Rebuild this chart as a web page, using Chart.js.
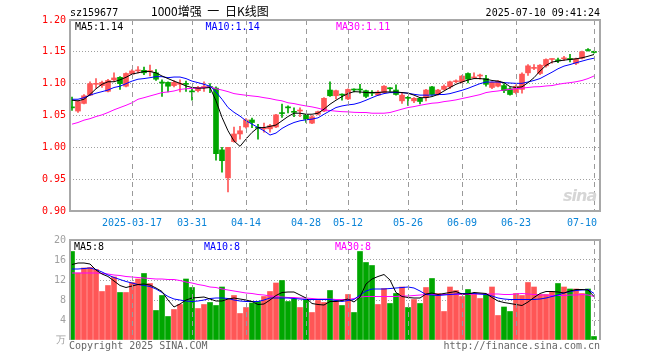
<!DOCTYPE html>
<html><head><meta charset="utf-8">
<script src="https://cdn.jsdelivr.net/npm/chart.js@4.4.1/dist/chart.umd.min.js"></script>
<style>
html,body{margin:0;padding:0;background:#fff;width:660px;height:360px;overflow:hidden;}
#wrap{position:relative;width:660px;height:360px;}
canvas{position:absolute;left:0;}
.t{position:absolute;font-family:"DejaVu Sans Mono",monospace;font-size:10px;line-height:12px;white-space:pre;}
</style></head><body>
<div id="wrap">
<canvas id="k" width="660" height="230" style="top:0"></canvas>
<canvas id="v" width="660" height="130" style="top:230px"></canvas>
<div class="t" style="left:70px;top:7px;color:#000">sz159677</div>
<div class="t" style="left:151px;top:4px;font-family:'Noto Sans CJK SC',sans-serif;font-size:12px;line-height:14px;word-spacing:3px;color:#000">1000增强 一 日K线图</div>
<div class="t" style="right:60px;top:7px;color:#000">2025-07-10 09:41:24</div>
<div class="t" style="left:75px;top:20.5px;color:#000">MA5:1.14</div>
<div class="t" style="left:205.5px;top:20.5px;color:#0000ff">MA10:1.14</div>
<div class="t" style="left:336px;top:20.5px;color:#ff00ff">MA30:1.11</div>
<div class="t" style="left:74px;top:240.5px;color:#000">MA5:8</div>
<div class="t" style="left:204px;top:240.5px;color:#0000ff">MA10:8</div>
<div class="t" style="left:335px;top:240.5px;color:#ff00ff">MA30:8</div>
<div class="t" style="left:69px;top:340px;color:#666">Copyright 2025 SINA.COM</div>
<div class="t" style="right:60px;top:340px;color:#666">http://finance.sina.com.cn</div>
<div class="t" style="left:563px;top:186px;font-family:'DejaVu Sans',sans-serif;font-size:16px;line-height:20px;letter-spacing:-1px;font-style:italic;font-weight:bold;color:#d6d6d6">sina</div>
</div>
<script>
const openP=[1.063,1.057,1.069,1.082,1.099,1.097,1.088,1.106,1.110,1.096,
1.115,1.120,1.121,1.119,1.117,1.102,1.102,1.097,1.099,1.100,
1.088,1.089,1.094,1.095,1.093,0.996,0.952,1.009,1.021,1.032,
1.043,1.031,1.029,1.029,1.032,1.054,1.063,1.056,1.057,1.051,
1.038,1.052,1.057,1.090,1.081,1.083,1.076,1.091,1.091,1.089,
1.086,1.082,1.086,1.093,1.090,1.073,1.078,1.073,1.077,1.078,
1.095,1.083,1.091,1.095,1.103,1.103,1.116,1.109,1.112,1.108,
1.094,1.096,1.097,1.092,1.086,1.091,1.117,1.124,1.116,1.128,
1.138,1.137,1.139,1.139,1.132,1.140,1.153,1.150];
const highP=[1.079,1.073,1.083,1.103,1.108,1.104,1.107,1.117,1.111,1.117,
1.122,1.127,1.126,1.129,1.122,1.106,1.103,1.105,1.106,1.104,
1.092,1.096,1.103,1.100,1.095,1.000,1.000,1.032,1.033,1.045,
1.046,1.036,1.038,1.036,1.052,1.068,1.065,1.062,1.062,1.052,
1.050,1.057,1.078,1.103,1.090,1.084,1.092,1.092,1.099,1.090,
1.089,1.089,1.097,1.094,1.098,1.086,1.080,1.078,1.078,1.091,
1.096,1.091,1.098,1.104,1.106,1.113,1.117,1.117,1.115,1.113,
1.103,1.105,1.100,1.094,1.098,1.117,1.130,1.130,1.130,1.139,
1.139,1.140,1.143,1.146,1.140,1.151,1.155,1.151];
const lowP=[1.058,1.055,1.068,1.081,1.093,1.094,1.087,1.104,1.091,1.095,
1.114,1.117,1.114,1.112,1.105,1.080,1.087,1.095,1.087,1.088,
1.074,1.087,1.088,1.086,0.980,0.961,0.930,1.008,1.013,1.030,
1.031,1.013,1.024,1.024,1.031,1.047,1.054,1.048,1.048,1.039,
1.037,1.051,1.056,1.080,1.076,1.074,1.075,1.087,1.085,1.078,
1.081,1.081,1.085,1.088,1.082,1.069,1.066,1.070,1.068,1.073,
1.082,1.082,1.090,1.092,1.101,1.101,1.101,1.109,1.107,1.096,
1.092,1.095,1.086,1.082,1.084,1.085,1.113,1.122,1.114,1.126,
1.132,1.133,1.136,1.134,1.130,1.139,1.151,1.148];
const closeP=[1.062,1.072,1.081,1.100,1.100,1.102,1.105,1.109,1.100,1.116,
1.120,1.121,1.117,1.120,1.107,1.101,1.096,1.102,1.100,1.099,
1.087,1.094,1.095,1.094,0.990,0.979,1.000,1.021,1.026,1.043,
1.039,1.030,1.030,1.034,1.051,1.053,1.062,1.055,1.058,1.044,
1.048,1.056,1.077,1.081,1.089,1.082,1.091,1.090,1.090,1.080,
1.085,1.087,1.096,1.092,1.083,1.082,1.077,1.077,1.072,1.090,
1.083,1.090,1.096,1.103,1.104,1.112,1.107,1.110,1.113,1.099,
1.102,1.104,1.089,1.083,1.096,1.115,1.128,1.125,1.129,1.138,
1.1385,1.136,1.140,1.138,1.139,1.150,1.152,1.149];
const ma5=[1.074,1.073,1.0755,1.083,1.092,1.099,1.103,1.103,1.106,1.110,
1.115,1.117,1.119,1.119,1.117,1.112,1.108,1.104,1.1005,1.0964,
1.094,1.093,1.093,1.094,1.073,1.047,1.026,1.010,1.0015,1.013,
1.0234,1.031,1.031,1.033,1.035,1.0417,1.0484,1.0536,1.0536,1.052,
1.052,1.0536,1.060,1.0677,1.074,1.0797,1.0844,1.0875,1.087,1.086,
1.086,1.086,1.087,1.087,1.087,1.086,1.085,1.082,1.078,1.078,
1.0797,1.083,1.0885,1.094,1.099,1.1026,1.1057,1.108,1.108,1.107,
1.105,1.104,1.1016,1.0953,1.094,1.095,1.1016,1.1094,1.1198,1.1287,
1.134,1.1354,1.137,1.138,1.139,1.1406,1.143,1.1458];
const ma10=[1.0755,1.0755,1.078,1.082,1.085,1.0875,1.090,1.094,1.096,1.100,
1.104,1.107,1.108,1.1094,1.111,1.111,1.1094,1.1104,1.1104,1.108,
1.104,1.1016,1.099,1.096,1.087,1.0755,1.0625,1.055,1.049,1.0417,
1.0365,1.0312,1.026,1.0193,1.0224,1.0297,1.0349,1.039,1.0417,1.0432,
1.0443,1.0463,1.052,1.0573,1.0625,1.065,1.0667,1.0677,1.0703,1.074,
1.078,1.0818,1.0844,1.086,1.086,1.086,1.085,1.0833,1.082,1.082,
1.082,1.083,1.083,1.0844,1.087,1.0896,1.0927,1.0964,1.100,1.1026,
1.1026,1.1026,1.1016,1.101,1.1005,1.1005,1.1026,1.105,1.108,1.113,
1.118,1.1234,1.1276,1.130,1.1328,1.1354,1.138,1.140];
const ma30=[1.0364,1.039,1.0427,1.045,1.0484,1.051,1.0547,1.0589,1.0625,1.066,
1.070,1.0755,1.078,1.0807,1.0833,1.086,1.087,1.0885,1.091,1.092,
1.0927,1.093,1.094,1.095,1.092,1.090,1.0875,1.0844,1.083,1.0818,
1.0807,1.0797,1.078,1.0766,1.0745,1.073,1.070,1.0687,1.0667,1.065,
1.0635,1.0615,1.0589,1.0578,1.0568,1.056,1.0557,1.055,1.0547,1.0547,
1.0536,1.0536,1.0536,1.0547,1.0573,1.060,1.0625,1.064,1.066,1.0677,
1.0693,1.070,1.0718,1.073,1.0745,1.0766,1.0786,1.0807,1.0828,1.086,
1.0875,1.0885,1.090,1.091,1.092,1.093,1.094,1.095,1.0953,1.0964,
1.097,1.099,1.1005,1.1016,1.103,1.105,1.108,1.112];
const vol=[17.7,13.4,14.4,14.5,14.1,9.7,10.9,12.6,9.5,9.5,
11.5,12.2,13.3,11.3,5.9,8.9,4.7,6.1,7.1,12.2,
10.5,6.3,7.1,7.5,6.9,10.6,8.1,8.9,5.3,6.5,
7.4,7.7,8.7,9.7,11.4,11.9,7.7,8.2,6.5,8.1,
5.5,7.9,7.5,9.9,7.9,6.9,9.1,5.5,17.7,15.5,
14.9,7.1,10.3,7.3,9.3,10.6,6.5,8.1,7.3,10.5,
12.3,9.3,5.7,10.6,9.9,8.7,10.1,9.3,8.3,9.1,
10.6,4.9,6.6,5.7,9.3,8.9,11.5,10.6,9.1,9.1,
9.7,11.3,10.6,10.2,10.2,9.3,10.2,0.7];
const vma5=[15.1,15.4,15.4,15.2,14.0,13.2,12.7,11.8,10.9,10.5,
10.8,11.1,11.2,11.0,10.4,9.7,8.0,6.6,7.2,8.0,
8.4,8.5,8.6,8.2,7.8,7.8,8.2,8.4,8.2,8.0,
7.7,7.1,7.2,8.0,8.9,9.5,9.6,9.6,9.0,8.4,
7.3,7.1,7.0,7.7,7.7,7.9,8.2,7.6,8.6,11.2,
12.2,12.7,13.1,12.0,9.5,8.7,8.5,8.4,8.4,9.2,
9.4,9.1,9.3,9.5,9.7,9.2,9.2,9.5,9.4,9.3,
8.5,7.8,7.5,7.3,7.1,6.9,7.6,8.5,9.3,9.7,
9.7,9.6,9.4,9.8,10.1,10.1,10.0,8.7];
const vma10=[14.2,14.2,14.3,14.4,14.1,13.6,13.0,12.5,12.1,11.7,
11.4,11.1,10.9,10.7,10.2,9.5,8.7,8.2,8.0,7.8,
7.7,7.8,8.0,8.3,8.4,8.4,8.3,8.0,7.8,7.7,
7.7,7.7,8.0,8.4,8.4,8.4,8.4,8.3,8.2,8.1,
8.1,8.1,8.1,8.1,7.9,7.7,7.9,8.1,9.0,9.8,
10.2,10.2,10.2,10.3,10.4,10.5,10.6,10.4,9.8,9.1,
9.0,8.9,9.0,9.1,9.2,9.3,9.3,9.3,9.2,9.1,
8.8,8.4,8.2,8.1,8.1,8.1,8.1,8.1,8.2,8.4,
8.7,9.0,9.4,9.7,9.9,10.0,10.1,9.3];
const vma30=[13.4,13.4,13.4,13.4,13.4,13.3,13.2,13.0,12.9,12.7,
12.6,12.5,12.4,12.3,12.2,12.2,12.1,12.1,11.9,11.6,
11.4,11.1,10.9,10.6,10.5,10.2,10.0,9.8,9.6,9.4,
9.3,9.1,9.0,8.8,8.7,8.6,8.5,8.5,8.4,8.4,
8.3,8.2,8.2,8.2,8.1,8.1,8.1,8.3,8.6,8.7,
8.7,8.7,8.7,8.7,8.7,8.8,8.8,8.9,9.0,9.1,
9.1,9.1,9.1,9.1,9.1,9.1,9.1,9.2,9.2,9.2,
9.2,9.2,9.1,9.1,9.2,9.3,9.2,9.1,9.0,9.0,
8.9,8.9,8.9,9.0,9.0,9.1,9.0,8.7];
const tickPos=[10,20,29,39,46,56,65,74,87];
const tickLabels=['2025-03-17','03-31','04-14','04-28','05-12','05-26','06-09','06-23','07-10'];

const RED='#ff5656', GREEN='#00a600';
const idx=closeP.map((_,i)=>i);
const col=idx.map(i=>closeP[i]>=openP[i]?RED:GREEN);
const MONO='"DejaVu Sans Mono", monospace';
const XMIN=-1/3, XMAX=88;

// frame + vertical dashed date grid lines, placed through the x scale
const framePlugin={id:'frame',
  afterDraw(chart,args,opts){
    const {ctx,chartArea:a,scales}=chart;
    ctx.save();
    ctx.strokeStyle='#9a9a9a';ctx.lineWidth=1;ctx.setLineDash([5,4]);
    for(const v of tickPos){
      const px=Math.round(scales.x.getPixelForValue(v))+0.5;
      ctx.beginPath();ctx.moveTo(px,a.top);ctx.lineTo(px,a.bottom);ctx.stroke();
    }
    ctx.setLineDash([]);
    ctx.strokeStyle='#a8a8a8';ctx.lineWidth=2;ctx.beginPath();
    if(opts.bottom){ctx.rect(a.left,a.top,a.right-a.left,a.bottom-a.top);}
    else{ctx.moveTo(a.left,a.bottom);ctx.lineTo(a.left,a.top);ctx.lineTo(a.right,a.top);ctx.lineTo(a.right,a.bottom);}
    ctx.stroke();ctx.restore();
  }};

function xScale(showLabels,h){
  return {type:'linear',min:XMIN,max:XMAX,offset:false,
    afterBuildTicks:s=>{s.ticks=tickPos.map(v=>({value:v}));},
    afterFit:s=>{s.height=h;},
    ticks:{display:showLabels,autoSkip:false,maxRotation:0,minRotation:0,padding:6,color:'#0a84d8',
      font:{family:MONO,size:10},
      callback:(v)=>{const k=tickPos.indexOf(v);if(k<0)return '';return k===tickPos.length-1?tickLabels[k]+'    ':tickLabels[k];}},
    grid:{display:false,drawTicks:false,offset:false},
    border:{display:false}
  };
}
function line(arr,color){return {type:'line',data:idx.map(i=>({x:i,y:arr[i]})),borderColor:color,borderWidth:1,pointRadius:0,tension:0,fill:false,order:0};}

new Chart(document.getElementById('k'),{
  type:'bar',
  data:{datasets:[
    {data:idx.map(i=>({x:i,y:[lowP[i],highP[i]]})),backgroundColor:col,barThickness:1,grouped:false,order:2,borderWidth:0},
    {data:idx.map(i=>({x:i,y:[openP[i],closeP[i]]})),backgroundColor:col,barThickness:5,minBarLength:1,grouped:false,order:1,borderWidth:0},
    line(ma5,'#000000'),line(ma10,'#0000ff'),line(ma30,'#ff00ff')
  ]},
  options:{responsive:false,animation:false,devicePixelRatio:1,
    layout:{padding:{top:20,right:60,left:0,bottom:0}},
    plugins:{legend:{display:false},tooltip:{enabled:false},frame:{bottom:true}},
    scales:{
      x:xScale(true,19),
      y:{min:0.9,max:1.2,afterFit:s=>{s.width=70;},
        ticks:{stepSize:0.05,padding:4,color:'#ff0000',font:{family:MONO,size:10},callback:v=>Number(v).toFixed(2)},
        grid:{drawTicks:false,lineWidth:1,color:c=>{const v=c.tick?c.tick.value:0;return (Math.abs(v-0.9)<1e-6||Math.abs(v-1.2)<1e-6)?'rgba(0,0,0,0)':'#a0a0a0';}},
        border:{display:false,dash:[1,2]}}
    }
  },
  plugins:[framePlugin]
});

new Chart(document.getElementById('v'),{
  type:'bar',
  data:{datasets:[
    {data:idx.map(i=>({x:i,y:vol[i]})),backgroundColor:col,barThickness:5,grouped:false,order:1,borderWidth:0},
    line(vma5,'#000000'),line(vma10,'#0000ff'),line(vma30,'#ff00ff')
  ]},
  options:{responsive:false,animation:false,devicePixelRatio:1,
    layout:{padding:{top:10,right:60,left:0,bottom:0}},
    plugins:{legend:{display:false},tooltip:{enabled:false},frame:{bottom:false}},
    scales:{
      x:xScale(false,20),
      y:{min:0,max:20,afterFit:s=>{s.width=70;},
        ticks:{stepSize:4,padding:4,color:'#a0a0a0',font:{family:MONO,size:10},callback:v=>v===0?'万':String(v)},
        grid:{drawTicks:false,lineWidth:1,color:c=>{const v=c.tick?c.tick.value:0;return (v===0||v===20)?'rgba(0,0,0,0)':'#a0a0a0';}},
        border:{display:false,dash:[1,2]}}
    }
  },
  plugins:[framePlugin]
});
</script>
</body></html>
